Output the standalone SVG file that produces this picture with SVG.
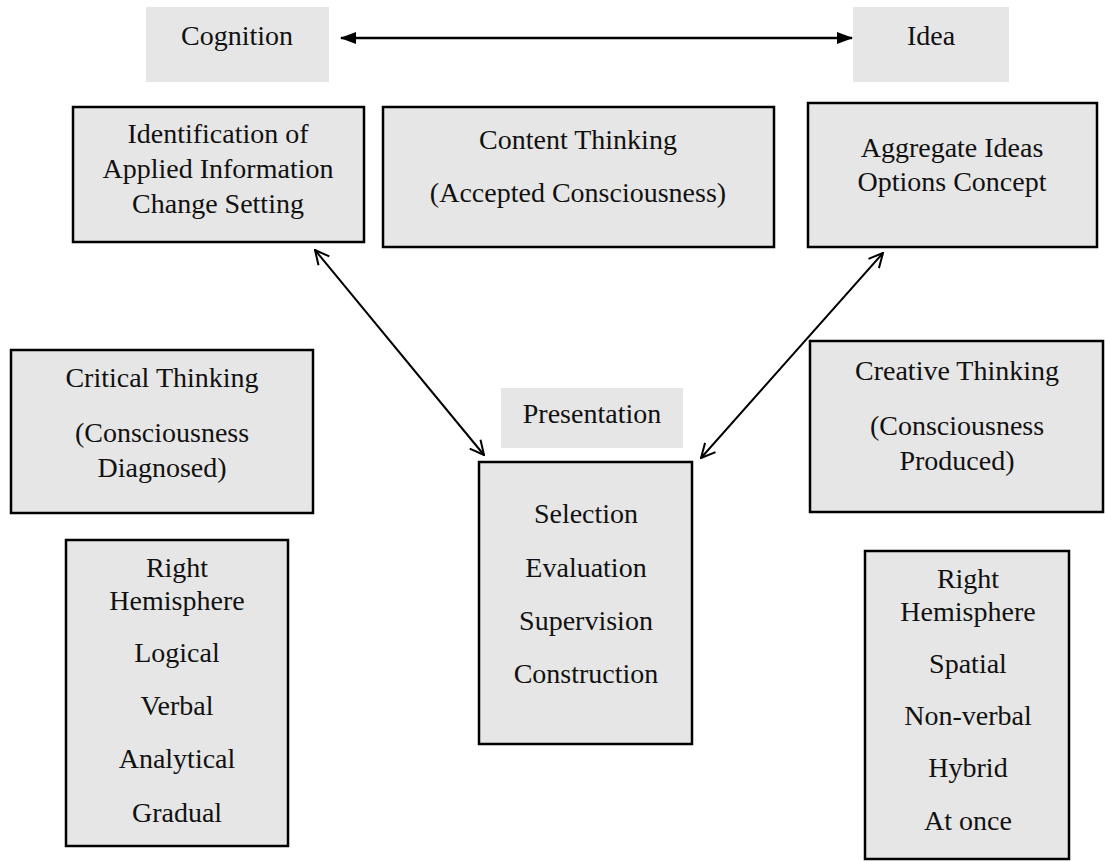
<svg xmlns="http://www.w3.org/2000/svg" width="1105" height="861" viewBox="0 0 1105 861">
<style>
.box{fill:#e6e6e6;stroke:#000;stroke-width:2.5}
.plain{fill:#e6e6e6;stroke:none}
text{font-family:'Liberation Serif','Times New Roman',serif;font-size:28px;fill:#111;text-anchor:middle}
.ln{stroke:#000;stroke-width:2;fill:none}
</style>
<defs>
<marker id="fill" viewBox="0 0 16 12" refX="15" refY="6" markerWidth="16" markerHeight="12" markerUnits="userSpaceOnUse" orient="auto-start-reverse">
<path d="M0,0 L16,6 L0,12 z" fill="#000"/>
</marker>
<marker id="open" viewBox="0 0 16 16" refX="15" refY="8" markerWidth="16" markerHeight="16" markerUnits="userSpaceOnUse" orient="auto-start-reverse">
<path d="M1,1 L15,8 L1,15" fill="none" stroke="#000" stroke-width="2"/>
</marker>
</defs>
<rect width="1105" height="861" fill="#fff"/>
<g id="connectors">
<line class="ln" x1="341" y1="38" x2="852" y2="38" marker-start="url(#fill)" marker-end="url(#fill)" style="stroke-width:2.5"/>
<line class="ln" x1="315" y1="250" x2="484" y2="455" marker-start="url(#open)" marker-end="url(#open)"/>
<line class="ln" x1="883" y1="253" x2="701" y2="458" marker-start="url(#open)" marker-end="url(#open)"/>
</g>
<g id="cognition">
<rect class="plain" x="146" y="7" width="183" height="75"/>
<text x="237" y="45">Cognition</text>
</g>
<g id="idea">
<rect class="plain" x="853" y="7" width="156" height="75"/>
<text x="931" y="45">Idea</text>
</g>
<g id="identification">
<rect class="box" x="73" y="107" width="291" height="135"/>
<text x="218" y="143">Identification of</text>
<text x="218" y="178">Applied Information</text>
<text x="218" y="213">Change Setting</text>
</g>
<g id="content">
<rect class="box" x="383" y="107" width="391" height="140"/>
<text x="578" y="149">Content Thinking</text>
<text x="578" y="202">(Accepted Consciousness)</text>
</g>
<g id="aggregate">
<rect class="box" x="808" y="103" width="289" height="144"/>
<text x="952" y="157">Aggregate Ideas</text>
<text x="952" y="191">Options Concept</text>
</g>
<g id="critical">
<rect class="box" x="11" y="350" width="302" height="163"/>
<text x="162" y="387">Critical Thinking</text>
<text x="162" y="442">(Consciousness</text>
<text x="162" y="477">Diagnosed)</text>
</g>
<g id="presentation">
<rect class="plain" x="501" y="388" width="182" height="60"/>
<text x="592" y="423">Presentation</text>
</g>
<g id="creative">
<rect class="box" x="810" y="341" width="293" height="171"/>
<text x="957" y="380">Creative Thinking</text>
<text x="957" y="435">(Consciousness</text>
<text x="957" y="470">Produced)</text>
</g>
<g id="selection">
<rect class="box" x="479" y="462" width="213" height="282"/>
<text x="586" y="523">Selection</text>
<text x="586" y="577">Evaluation</text>
<text x="586" y="630">Supervision</text>
<text x="586" y="683">Construction</text>
</g>
<g id="left-hemisphere">
<rect class="box" x="66" y="540" width="222" height="306"/>
<text x="177" y="577">Right</text>
<text x="177" y="610">Hemisphere</text>
<text x="177" y="662">Logical</text>
<text x="177" y="715">Verbal</text>
<text x="177" y="768">Analytical</text>
<text x="177" y="822">Gradual</text>
</g>
<g id="right-hemisphere">
<rect class="box" x="865" y="551" width="204" height="308"/>
<text x="968" y="588">Right</text>
<text x="968" y="621">Hemisphere</text>
<text x="968" y="673">Spatial</text>
<text x="968" y="725">Non-verbal</text>
<text x="968" y="777">Hybrid</text>
<text x="968" y="830">At once</text>
</g>
</svg>
